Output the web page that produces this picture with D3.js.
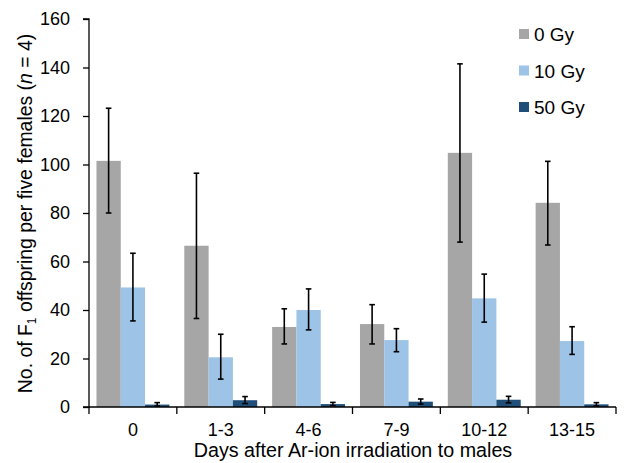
<!DOCTYPE html>
<html>
<head>
<meta charset="utf-8">
<script src="https://cdn.jsdelivr.net/npm/d3@7"></script>
<style>
  body { margin: 0; background: #fff; }
  svg { font-family: "Liberation Sans", Arial, sans-serif; }
</style>
</head>
<body>
<div id="chart"></div>
<script>
// data
var categories = ['0', '1-3', '4-6', '7-9', '10-12', '13-15'];
var series = ['0 Gy', '10 Gy', '50 Gy'];
var means0 = [101.5, 66.5, 33, 34.2, 104.8, 84.2];
var lo0 = [80, 36.5, 26, 26, 68, 66.8];
var hi0 = [123.2, 96.4, 40.5, 42.2, 141.5, 101.3];
var means10 = [49.3, 20.5, 40, 27.6, 44.8, 27.2];
var lo10 = [35.5, 11.5, 31.8, 22.8, 35, 21.7];
var hi10 = [63.4, 30, 48.7, 32.3, 54.8, 33.1];
var means50 = [1, 2.8, 1.2, 2.2, 3, 1.1];
var lo50 = [0.4, 1.4, 0.6, 1.2, 1.7, 0.5];
var hi50 = [1.8, 4.3, 1.9, 3.3, 4.4, 1.8];
var yTicks = [0, 20, 40, 60, 80, 100, 120, 140, 160];
var colors = ['#a6a6a6', '#9dc3e6', '#1f4e79'];

var W = 624, H = 463;
var mLeft = 89, mRight = 616, mTop = 19, mBottom = 407;
var FONT = '"Liberation Sans", Arial, sans-serif';

var svg = d3.select('#chart').append('svg')
  .attr('width', W).attr('height', H);

var x = d3.scaleBand().domain(categories).range([mLeft, mRight]).paddingInner(0.17).paddingOuter(0.085);
var sub = d3.scaleBand().domain(series).range([0, x.bandwidth()]);
var y = d3.scaleLinear().domain([0, 160]).range([mBottom, mTop]);

var rows = [];
categories.forEach(function (c, i) {
  rows.push({ cat: c, s: series[0], v: means0[i], lo: lo0[i], hi: hi0[i], k: 0 });
  rows.push({ cat: c, s: series[1], v: means10[i], lo: lo10[i], hi: hi10[i], k: 1 });
  rows.push({ cat: c, s: series[2], v: means50[i], lo: lo50[i], hi: hi50[i], k: 2 });
});

// bars
svg.append('g').selectAll('rect')
  .data(rows).enter().append('rect')
  .attr('x', function (d) { return x(d.cat) + sub(d.s); })
  .attr('width', sub.bandwidth())
  .attr('y', function (d) { return y(d.v); })
  .attr('height', function (d) { return y(0) - y(d.v); })
  .attr('fill', function (d) { return colors[d.k]; });

// error bars
var eb = svg.append('g').attr('stroke', '#000').attr('stroke-width', 1.6);
rows.forEach(function (d) {
  var cx = x(d.cat) + sub(d.s) + sub.bandwidth() / 2;
  eb.append('line').attr('x1', cx).attr('x2', cx).attr('y1', y(d.lo)).attr('y2', y(d.hi));
  eb.append('line').attr('x1', cx - 2.8).attr('x2', cx + 2.8).attr('y1', y(d.lo)).attr('y2', y(d.lo));
  eb.append('line').attr('x1', cx - 2.8).attr('x2', cx + 2.8).attr('y1', y(d.hi)).attr('y2', y(d.hi));
});

// y axis
var yAxis = svg.append('g')
  .attr('transform', 'translate(' + mLeft + ',0)')
  .call(d3.axisLeft(y).tickValues(yTicks).tickSize(6).tickPadding(13));
yAxis.select('.domain').attr('stroke', '#000').attr('stroke-width', 1.3).attr('d', 'M-6,' + mTop + 'H0V' + mBottom + 'H-6');
yAxis.selectAll('.tick line').attr('stroke', '#000').attr('stroke-width', 1.3);
yAxis.selectAll('.tick text').attr('font-size', 18).attr('fill', '#000').attr('font-family', FONT);

// x axis
var xAxis = svg.append('g')
  .attr('transform', 'translate(0,' + mBottom + ')')
  .call(d3.axisBottom(x).tickSize(0).tickPadding(16));
xAxis.select('.domain').attr('stroke', '#000').attr('stroke-width', 1.3).attr('d', 'M' + mLeft + ',0H' + mRight);
xAxis.selectAll('.tick text').attr('font-size', 18).attr('fill', '#000').attr('font-family', FONT);
var bounds = categories.map(function (c) { return x(c) - x.step() * x.paddingInner() / 2; });
bounds.push(mRight);
bounds[0] = mLeft;
xAxis.selectAll('.sep').data(bounds).enter().append('line')
  .attr('x1', function (d) { return d; }).attr('x2', function (d) { return d; })
  .attr('y1', 0).attr('y2', 7)
  .attr('stroke', '#000').attr('stroke-width', 1.3);

// axis titles
svg.append('text')
  .attr('x', 353).attr('y', 457)
  .attr('text-anchor', 'middle').attr('font-size', 19.7)
  .text('Days after Ar-ion irradiation to males');

var yt = svg.append('text')
  .attr('transform', 'translate(32,213.5) rotate(-90)')
  .attr('text-anchor', 'middle').attr('font-size', 19.4);
yt.append('tspan').text('No. of F');
yt.append('tspan').attr('font-size', 12).attr('dy', 4).text('1');
yt.append('tspan').attr('dy', -4).text(' offspring per five females (');
yt.append('tspan').attr('font-style', 'italic').text('n');
yt.append('tspan').text(' = 4)');

// legend
var lg = svg.append('g').attr('transform', 'translate(519,34)');
series.forEach(function (s, i) {
  var g = lg.append('g').attr('transform', 'translate(0,' + (i * 36.5) + ')');
  g.append('rect').attr('x', 0).attr('y', -5).attr('width', 10).attr('height', 10).attr('fill', colors[i]);
  g.append('text').attr('x', 15).attr('y', 7).attr('font-size', 19).text(s);
});
</script>
</body>
</html>
